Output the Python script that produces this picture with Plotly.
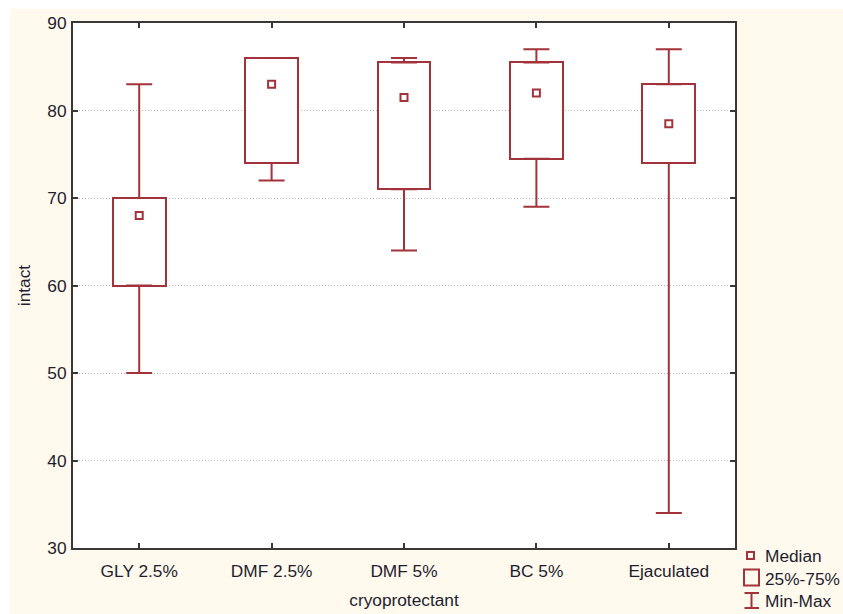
import plotly.graph_objects as go

# Box-plot summary per cryoprotectant (intact cells, %)
categories = ["GLY 2.5%", "DMF 2.5%", "DMF 5%", "BC 5%", "Ejaculated"]
minimum = [50, 72, 64, 69, 34]
q1 = [60, 74, 71, 74.5, 74]
median = [68, 83, 81.5, 82, 78.5]
q3 = [70, 86, 85.5, 85.5, 83]
maximum = [83, 86, 86, 87, 87]

RED = "#A3333A"
INK = "#1E1E2E"
CREAM = "#FFF9EE"
FONT = "Liberation Sans, Arial, sans-serif"
FS = 17.3

W, H = 843, 614
L, R, T, B = 73, 108, 23, 66
PW, PH = W - L - R, H - T - B


def px(x):
    return (x - L) / PW


def py(y):
    return (H - B - y) / PH


fig = go.Figure()

# 25%-75% boxes
fig.add_trace(go.Bar(
    x=categories,
    base=q1,
    y=[b - a for a, b in zip(q1, q3)],
    width=0.4,
    marker=dict(color="white", line=dict(color=RED, width=2)),
    hoverinfo="skip",
    showlegend=False,
))

# upper whiskers (q3 -> max)
fig.add_trace(go.Scatter(
    x=categories, y=q3, mode="markers",
    marker=dict(size=1, color="rgba(0,0,0,0)"),
    error_y=dict(type="data", symmetric=False,
                 array=[b - a for a, b in zip(q3, maximum)],
                 arrayminus=[0] * len(q3),
                 color=RED, thickness=2, width=13),
    hoverinfo="skip", showlegend=False,
))

# lower whiskers (min -> q1)
fig.add_trace(go.Scatter(
    x=categories, y=q1, mode="markers",
    marker=dict(size=1, color="rgba(0,0,0,0)"),
    error_y=dict(type="data", symmetric=False,
                 array=[0] * len(q1),
                 arrayminus=[a - b for a, b in zip(q1, minimum)],
                 color=RED, thickness=2, width=13),
    hoverinfo="skip", showlegend=False,
))

# medians
fig.add_trace(go.Scatter(
    x=categories, y=median, mode="markers",
    marker=dict(symbol="square-open", size=7, color=RED,
                line=dict(color=RED, width=2)),
    showlegend=False,
))

shapes = [
    # white strips around the cream page
    dict(type="rect", xref="paper", yref="paper", layer="below",
         x0=px(0), x1=px(10), y0=py(H), y1=py(0),
         fillcolor="white", line=dict(width=0)),
    dict(type="rect", xref="paper", yref="paper", layer="below",
         x0=px(0), x1=px(W), y0=py(9), y1=py(0),
         fillcolor="white", line=dict(width=0)),
    # legend glyphs
    dict(type="rect", xref="paper", yref="paper",
         x0=px(747), x1=px(754), y0=py(559), y1=py(552),
         fillcolor="rgba(0,0,0,0)", line=dict(color=RED, width=2)),
    dict(type="rect", xref="paper", yref="paper",
         x0=px(744), x1=px(759), y0=py(585.5), y1=py(569.5),
         fillcolor="rgba(0,0,0,0)", line=dict(color=RED, width=2)),
    dict(type="line", xref="paper", yref="paper",
         x0=px(751.5), x1=px(751.5), y0=py(608), y1=py(593),
         line=dict(color=RED, width=2)),
    dict(type="line", xref="paper", yref="paper",
         x0=px(744.5), x1=px(759), y0=py(593), y1=py(593),
         line=dict(color=RED, width=2)),
    dict(type="line", xref="paper", yref="paper",
         x0=px(744.5), x1=px(759), y0=py(608), y1=py(608),
         line=dict(color=RED, width=2)),
]

legend_items = [("Median", 555.5), ("25%-75%", 578.5), ("Min-Max", 601)]
annotations = [
    dict(text=t, xref="paper", yref="paper", x=px(763), y=py(yy),
         xanchor="left", yanchor="middle", showarrow=False,
         font=dict(family=FONT, size=FS, color=INK))
    for t, yy in legend_items
]

fig.update_layout(
    width=W, height=H,
    margin=dict(l=L, r=R, t=T, b=B, pad=0, autoexpand=False),
    paper_bgcolor=CREAM,
    plot_bgcolor="white",
    font=dict(family=FONT, size=FS, color=INK),
    shapes=shapes,
    annotations=annotations,
    bargap=0,
    xaxis=dict(
        type="category", range=[-0.5, 4.5], automargin=False,
        showline=True, linecolor="#383838", linewidth=2, mirror="ticks",
        ticks="inside", ticklen=5, tickwidth=1.5, tickcolor="#383838",
        showgrid=False, zeroline=False,
        ticklabelstandoff=6,
        tickfont=dict(family=FONT, size=FS, color=INK),
        title=dict(text="cryoprotectant", standoff=14,
                   font=dict(family=FONT, size=FS, color=INK)),
    ),
    yaxis=dict(
        range=[30, 90], dtick=10, tick0=30, automargin=False,
        showline=True, linecolor="#383838", linewidth=2, mirror="ticks",
        ticks="inside", ticklen=5, tickwidth=1.5, tickcolor="#383838",
        showgrid=True, gridcolor="#B8B8B8", gridwidth=1, griddash="1px,2px",
        zeroline=False,
        ticklabelstandoff=1,
        tickfont=dict(family=FONT, size=FS, color=INK),
        title=dict(text="intact", standoff=12,
                   font=dict(family=FONT, size=FS, color=INK)),
    ),
)

fig.write_html("out.html")
